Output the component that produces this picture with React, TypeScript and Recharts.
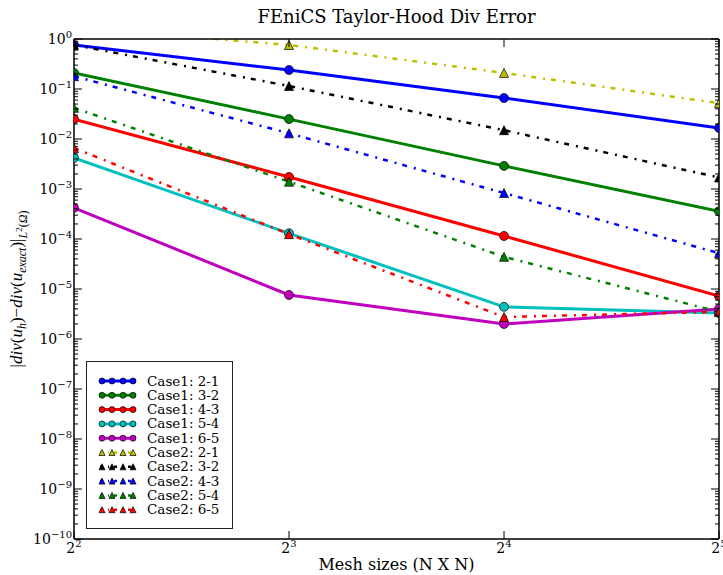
import { Legend, Line, LineChart, XAxis, YAxis } from "recharts";

// mesh sizes N (log2 axis) and L2 divergence errors per element pair
const meshSizes = [4, 8, 16, 32];
const case1_21 = [0.76, 0.24, 0.066, 0.0166];
const case1_32 = [0.21, 0.025, 0.0029, 3.6e-4];
const case1_43 = [0.025, 1.74e-3, 1.15e-4, 7.2e-6];
const case1_54 = [4.2e-3, 1.3e-4, 4.4e-6, 3.3e-6];
const case1_65 = [4.2e-4, 7.6e-6, 2.0e-6, 4.0e-6];
const case2_21 = [1.7, 0.76, 0.21, 0.052];
const case2_32 = [0.76, 0.115, 0.015, 1.7e-3];
const case2_43 = [0.18, 0.013, 8.3e-4, 5.2e-5];
const case2_54 = [0.042, 1.4e-3, 4.4e-5, 3.5e-6];
const case2_65 = [6.6e-3, 1.25e-4, 2.75e-6, 3.5e-6];

const xTickExponents = [2, 3, 4, 5];
const yTickExponents = [-10, -9, -8, -7, -6, -5, -4, -3, -2, -1, 0];
const yMinorSteps = [2, 3, 4, 5, 6, 7, 8, 9];

const Y_MIN = 1e-10;
const Y_MAX = 1;
const FONT = "'DejaVu Serif', 'Liberation Serif', serif";

type Marker = "circle" | "triangle";
interface Series {
  key: string;
  label: string;
  color: string;
  marker: Marker;
  values: number[];
}

const series: Series[] = [
  { key: "c1_21", label: "Case1: 2-1", color: "#0000ff", marker: "circle", values: case1_21 },
  { key: "c1_32", label: "Case1: 3-2", color: "#008000", marker: "circle", values: case1_32 },
  { key: "c1_43", label: "Case1: 4-3", color: "#ff0000", marker: "circle", values: case1_43 },
  { key: "c1_54", label: "Case1: 5-4", color: "#00bfbf", marker: "circle", values: case1_54 },
  { key: "c1_65", label: "Case1: 6-5", color: "#bf00bf", marker: "circle", values: case1_65 },
  { key: "c2_21", label: "Case2: 2-1", color: "#bfbf00", marker: "triangle", values: case2_21 },
  { key: "c2_32", label: "Case2: 3-2", color: "#000000", marker: "triangle", values: case2_32 },
  { key: "c2_43", label: "Case2: 4-3", color: "#0000ff", marker: "triangle", values: case2_43 },
  { key: "c2_54", label: "Case2: 5-4", color: "#008000", marker: "triangle", values: case2_54 },
  { key: "c2_65", label: "Case2: 6-5", color: "#ff0000", marker: "triangle", values: case2_65 },
];

const rows = meshSizes.map((n, i) => {
  const row: Record<string, number> = { n };
  series.forEach((s) => {
    row[s.key] = s.values[i];
  });
  return row;
});

const xTicks = xTickExponents.map((e) => Math.pow(2, e));
const yTicks: number[] = [];
yTickExponents.forEach((e) => {
  yTicks.push(Math.pow(10, e));
  if (e < 0) yMinorSteps.forEach((m) => yTicks.push(m * Math.pow(10, e)));
});

const DASH_DOT = "5 7 2 6";

function markerShape(marker: Marker, cx: number, cy: number, size: number, color: string, key?: string) {
  if (marker === "circle") {
    return <circle key={key} cx={cx} cy={cy} r={size} fill={color} stroke="#000" strokeWidth={0.7} />;
  }
  const h = size;
  return (
    <path
      key={key}
      d={`M${cx},${cy - h}L${cx - h},${cy + h}L${cx + h},${cy + h}Z`}
      fill={color}
      stroke="#000"
      strokeWidth={0.7}
      strokeLinejoin="miter"
    />
  );
}

const makeDot = (s: Series) => (props: any) => {
  const { cx, cy, value, index } = props;
  const k = `${s.key}-${index}`;
  // points above the top of the log axis are not marked
  if (cx == null || cy == null || value > Y_MAX) return <g key={k} />;
  return markerShape(s.marker, cx, cy, 4.5, s.color, k);
};

function isMajor(v: number) {
  const e = Math.round(Math.log10(v));
  return Math.abs(v - Math.pow(10, e)) < v * 1e-6;
}

function YTickLeft({ x, y, payload }: any) {
  const v = payload.value as number;
  const major = isMajor(v);
  const e = Math.round(Math.log10(v));
  return (
    <g>
      <line x1={x} x2={x + (major ? 8 : 4)} y1={y} y2={y} stroke="#000" strokeWidth={1} />
      {major && (
        <text x={x - 2} y={y + 5} textAnchor="end" fontFamily={FONT} fontSize={14} fill="#000">
          10
          <tspan fontSize={10} dy={-6}>
            {e < 0 ? `−${-e}` : `${e}`}
          </tspan>
        </text>
      )}
    </g>
  );
}

function YTickRight({ x, y, payload }: any) {
  const major = isMajor(payload.value as number);
  return <line x1={x} x2={x - (major ? 8 : 4)} y1={y} y2={y} stroke="#000" strokeWidth={1} />;
}

function XTickBottom({ x, y, payload }: any) {
  const e = Math.round(Math.log2(payload.value as number));
  return (
    <g>
      <line x1={x} x2={x} y1={y} y2={y - 8} stroke="#000" strokeWidth={1} />
      <text x={x} y={y + 14} textAnchor="middle" fontFamily={FONT} fontSize={14} fill="#000">
        2<tspan fontSize={10} dy={-6}>{e}</tspan>
      </text>
    </g>
  );
}

function XTickTop({ x, y }: any) {
  return <line x1={x} x2={x} y1={y} y2={y + 8} stroke="#000" strokeWidth={1} />;
}

function TitleLabel({ viewBox }: any) {
  const cx = viewBox ? viewBox.x + viewBox.width / 2 : 396;
  return (
    <text x={cx} y={23} textAnchor="middle" fontFamily={FONT} fontSize={18} fill="#000">
      FEniCS Taylor-Hood Div Error
    </text>
  );
}

function XTitleLabel({ viewBox }: any) {
  const cx = viewBox ? viewBox.x + viewBox.width / 2 : 396;
  return (
    <text x={cx} y={570} textAnchor="middle" fontFamily={FONT} fontSize={16} fill="#000">
      Mesh sizes (N X N)
    </text>
  );
}

function YTitleLabel({ viewBox }: any) {
  const cy = viewBox ? viewBox.y + viewBox.height / 2 : 289;
  const it = "italic";
  return (
    <text
      transform={`translate(22,${cy}) rotate(-90)`}
      textAnchor="middle"
      fontFamily="'Liberation Serif', serif"
      fontSize={17}
      fill="#000"
    >
      |<tspan fontStyle={it}>div</tspan>(<tspan fontStyle={it}>u</tspan>
      <tspan fontStyle={it} fontSize={12} dy={4}>h</tspan>
      <tspan dy={-4}>)−</tspan>
      <tspan fontStyle={it}>div</tspan>(<tspan fontStyle={it}>u</tspan>
      <tspan fontStyle={it} fontSize={12} dy={4}>exact</tspan>
      <tspan dy={-4}>)|</tspan>
      <tspan fontStyle={it} fontSize={12} dy={5}>L</tspan>
      <tspan fontSize={9} dy={-5}>2</tspan>
      <tspan fontSize={12} dy={5}>(</tspan>
      <tspan fontStyle={it} fontSize={12}>Ω</tspan>
      <tspan fontSize={12}>)</tspan>
    </text>
  );
}

function LegendBox() {
  const w = 147;
  const h = 168;
  return (
    <svg width={w} height={h} style={{ display: "block" }}>
      <rect x={0.5} y={0.5} width={w - 1} height={h - 1} fill="#fff" stroke="#222" strokeWidth={1} />
      {series.map((s, i) => {
        const y = 20 + i * 14.3;
        const xs = [16, 26, 37, 47];
        return (
          <g key={s.key}>
            <line
              x1={14}
              x2={50}
              y1={y}
              y2={y}
              stroke={s.color}
              strokeWidth={s.marker === "circle" ? 3 : 2.5}
              strokeDasharray={s.marker === "circle" ? undefined : "3 5 1 5"}
            />
            {xs.map((mx, j) => markerShape(s.marker, mx, y, 3, s.color, `${s.key}-m${j}`))}
            <text x={61} y={y + 4.5} fontFamily={FONT} fontSize={13.5} fill="#000">
              {s.label}
            </text>
          </g>
        );
      })}
    </svg>
  );
}

export default function App() {
  return (
    <div style={{ position: "absolute", left: 0, top: 0, width: 723, height: 575, background: "#fff" }}>
      <LineChart width={723} height={575} data={rows} margin={{ top: 0, right: 0, bottom: 0, left: 0 }}>
        <XAxis
          dataKey="n"
          type="number"
          scale="log"
          domain={[4, 32]}
          ticks={xTicks}
          interval={0}
          allowDataOverflow
          height={36}
          tickSize={0}
          tickMargin={0}
          tickLine={false}
          axisLine={{ stroke: "#000", strokeWidth: 1.5 }}
          tick={<XTickBottom />}
          label={<XTitleLabel />}
        />
        <XAxis
          xAxisId="top"
          dataKey="n"
          type="number"
          orientation="top"
          scale="log"
          domain={[4, 32]}
          ticks={xTicks}
          interval={0}
          allowDataOverflow
          height={39}
          tickSize={0}
          tickMargin={0}
          tickLine={false}
          axisLine={{ stroke: "#000", strokeWidth: 1.5 }}
          tick={<XTickTop />}
          label={<TitleLabel />}
        />
        <YAxis
          type="number"
          scale="log"
          domain={[Y_MIN, Y_MAX]}
          ticks={yTicks}
          interval={0}
          allowDataOverflow
          width={74}
          tickSize={0}
          tickMargin={0}
          tickLine={false}
          axisLine={{ stroke: "#000", strokeWidth: 1.5 }}
          tick={<YTickLeft />}
          label={<YTitleLabel />}
        />
        <YAxis
          yAxisId="right"
          orientation="right"
          type="number"
          scale="log"
          domain={[Y_MIN, Y_MAX]}
          ticks={yTicks}
          interval={0}
          allowDataOverflow
          width={4}
          tickSize={0}
          tickMargin={0}
          tickLine={false}
          axisLine={{ stroke: "#000", strokeWidth: 1.5 }}
          tick={<YTickRight />}
        />
        {series.map((s) => (
          <Line
            key={s.key}
            dataKey={s.key}
            type="linear"
            stroke={s.color}
            strokeWidth={s.marker === "circle" ? 3 : 2.5}
            strokeDasharray={s.marker === "circle" ? undefined : DASH_DOT}
            dot={makeDot(s)}
            activeDot={false}
            isAnimationActive={false}
          />
        ))}
        <Legend
          layout="vertical"
          align="center"
          verticalAlign="middle"
          content={() => <LegendBox />}
          wrapperStyle={{ left: 86, top: 361, width: 147, height: 168 }}
        />
      </LineChart>
    </div>
  );
}
